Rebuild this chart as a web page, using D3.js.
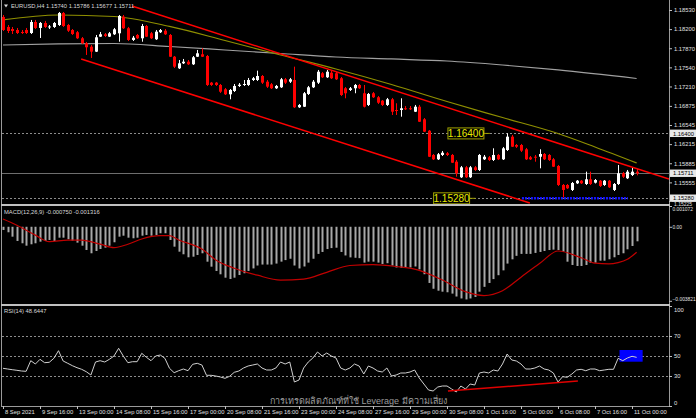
<!DOCTYPE html>
<html><head><meta charset="utf-8">
<script src="https://cdn.jsdelivr.net/npm/d3@7"></script>
<style>
body{margin:0;background:#000;}
svg{display:block;}
text{font-family:"Liberation Sans",Arial,sans-serif;}
</style>
</head><body>
<svg id="chart" width="696" height="418"></svg>
<script>
// EURUSD H4, 8 Sep 2021 08:00 .. 11 Oct 2021 04:00 (138 bars)
const open = [1.18410,1.18237,1.18202,1.18185,1.18151,1.18185,1.18133,1.18323,1.18220,1.18306,
1.18237,1.18237,1.18271,1.18479,1.18271,1.18185,1.18146,1.18042,1.17956,1.17897,
1.17811,1.18070,1.18111,1.18070,1.18111,1.18128,1.18415,1.18215,1.18013,1.18099,
1.18042,1.18254,1.18128,1.18025,1.18146,1.18173,1.18099,1.17724,1.17524,1.17610,
1.17638,1.17593,1.17724,1.17766,1.17736,1.17276,1.17276,1.17236,1.17162,1.17075,
1.17132,1.17219,1.17241,1.17236,1.17322,1.17322,1.17391,1.17293,1.17248,1.17179,
1.17196,1.17334,1.17293,1.17322,1.16851,1.16861,1.17081,1.17196,1.17276,1.17438,
1.17369,1.17448,1.17438,1.17352,1.17179,1.17150,1.17179,1.17236,1.17093,1.16891,
1.17093,1.17024,1.16965,1.16891,1.16989,1.16804,1.16804,1.16834,1.16834,1.16775,
1.16861,1.16644,1.16447,1.16028,1.15953,1.16028,1.16057,1.16028,1.15912,1.15643,
1.15815,1.15643,1.15815,1.15769,1.15953,1.15988,1.15941,1.16028,1.15953,1.16114,
1.16344,1.16200,1.16200,1.16126,1.15988,1.15998,1.15998,1.16045,1.16028,1.15953,
1.15838,1.15510,1.15510,1.15424,1.15539,1.15584,1.15527,1.15608,1.15550,1.15584,
1.15510,1.15584,1.15424,1.15527,1.15712,1.15626,1.15682,1.15740];
const high = [1.18444,1.18271,1.18237,1.18220,1.18185,1.18220,1.18358,1.18358,1.18323,1.18341,
1.18271,1.18323,1.18496,1.18496,1.18289,1.18202,1.18168,1.18064,1.17978,1.17926,
1.18099,1.18151,1.18133,1.18151,1.18220,1.18444,1.18444,1.18237,1.18082,1.18116,
1.18289,1.18271,1.18151,1.18185,1.18202,1.18202,1.18116,1.17736,1.17667,1.17685,
1.17667,1.17736,1.17840,1.17869,1.17754,1.17288,1.17288,1.17253,1.17184,1.17167,
1.17253,1.17270,1.17322,1.17357,1.17374,1.17483,1.17408,1.17322,1.17270,1.17236,
1.17357,1.17357,1.17357,1.17552,1.16908,1.17115,1.17219,1.17322,1.17495,1.17460,
1.17495,1.17478,1.17460,1.17374,1.17201,1.17201,1.17253,1.17253,1.17236,1.17098,
1.17115,1.17046,1.16977,1.17012,1.17012,1.16920,1.17006,1.16873,1.16873,1.16891,
1.16891,1.16666,1.16459,1.16045,1.16062,1.16097,1.16079,1.16045,1.15941,1.15838,
1.15838,1.15838,1.15838,1.16045,1.16028,1.16010,1.16143,1.16045,1.16166,1.16402,
1.16373,1.16218,1.16218,1.16149,1.16010,1.16028,1.16126,1.16062,1.16045,1.15976,
1.15855,1.15527,1.15527,1.15562,1.15596,1.15596,1.15740,1.15740,1.15613,1.15596,
1.15596,1.15596,1.15544,1.15855,1.15734,1.15769,1.15803,1.15786];
const low = [1.18168,1.18133,1.18116,1.18116,1.18116,1.18116,1.18116,1.18202,1.18047,1.18220,
1.18202,1.18220,1.18254,1.18237,1.18151,1.18099,1.18030,1.17944,1.17754,1.17702,
1.17805,1.18064,1.18064,1.18064,1.18099,1.17983,1.18202,1.17995,1.17995,1.18030,
1.17983,1.18064,1.18030,1.18013,1.18133,1.18099,1.17719,1.17529,1.17512,1.17598,
1.17581,1.17581,1.17719,1.17719,1.17219,1.17219,1.17219,1.17098,1.17063,1.16989,
1.17115,1.17201,1.17219,1.17219,1.17305,1.17305,1.17253,1.17184,1.17167,1.17167,
1.17184,1.17253,1.17270,1.16839,1.16839,1.16856,1.17063,1.17184,1.17253,1.17357,
1.17357,1.17339,1.17322,1.17046,1.17006,1.17132,1.17093,1.17167,1.16848,1.16873,
1.17012,1.16908,1.16873,1.16873,1.16718,1.16718,1.16689,1.16804,1.16804,1.16770,
1.16597,1.16425,1.15993,1.15941,1.15941,1.16010,1.16010,1.15890,1.15653,1.15631,
1.15631,1.15631,1.15752,1.15752,1.15941,1.15924,1.15924,1.15941,1.15941,1.16097,
1.16166,1.16149,1.16079,1.15941,1.15941,1.15912,1.15798,1.15941,1.15924,1.15821,
1.15493,1.15295,1.15441,1.15406,1.15527,1.15527,1.15510,1.15510,1.15536,1.15475,
1.15493,1.15458,1.15406,1.15510,1.15631,1.15613,1.15665,1.15677];
const close = [1.18185,1.18168,1.18168,1.18133,1.18133,1.18133,1.18323,1.18220,1.18306,1.18237,
1.18246,1.18306,1.18479,1.18254,1.18173,1.18116,1.18042,1.17956,1.17887,1.17811,
1.18059,1.18111,1.18082,1.18128,1.18197,1.18427,1.18215,1.18013,1.18052,1.18042,
1.18254,1.18070,1.18042,1.18156,1.18185,1.18111,1.17724,1.17552,1.17610,1.17638,
1.17593,1.17714,1.17783,1.17724,1.17236,1.17236,1.17236,1.17120,1.17075,1.17150,
1.17219,1.17241,1.17253,1.17322,1.17352,1.17391,1.17276,1.17207,1.17179,1.17219,
1.17334,1.17276,1.17334,1.16851,1.16891,1.17093,1.17196,1.17293,1.17465,1.17369,
1.17465,1.17352,1.17334,1.17063,1.17093,1.17179,1.17236,1.17179,1.16861,1.17081,
1.17024,1.16930,1.16891,1.16989,1.16775,1.16800,1.16834,1.16822,1.16830,1.16861,
1.16602,1.16430,1.15998,1.15953,1.16040,1.16067,1.16028,1.15895,1.15712,1.15815,
1.15643,1.15815,1.15769,1.16028,1.15998,1.15941,1.16028,1.15953,1.16143,1.16344,
1.16171,1.16171,1.16102,1.15953,1.15953,1.15995,1.16045,1.15953,1.15941,1.15826,
1.15510,1.15424,1.15453,1.15544,1.15584,1.15539,1.15608,1.15527,1.15596,1.15493,
1.15584,1.15470,1.15527,1.15712,1.15653,1.15740,1.15740,1.15711];

// moving averages, read at a few bars
const maBars  = [0,12,24,36,48,60,72,84,96,108,120,128,137];
const maFast  = [1.18358,1.18444,1.18418,1.18246,1.18004,1.17754,1.17512,1.17244,1.16950,1.16674,1.16399,1.16166,1.15890];
const slowBars = [0,12,24,36,48,60,72,84,96,108,120,137];
const maSlow  = [1.17926,1.17944,1.17952,1.17900,1.17840,1.17779,1.17719,1.17685,1.17650,1.17581,1.17495,1.17348];

// MACD(12,26,9) histogram, one per bar
const macd = [-0.000165,-0.000284,-0.000511,-0.000733,-0.000852,-0.000976,-0.000904,-0.000852,-0.000769,-0.000733,
-0.000682,-0.000733,-0.000563,-0.000563,-0.000645,-0.000718,-0.000821,-0.000976,-0.001198,-0.001368,
-0.001250,-0.001146,-0.001079,-0.000976,-0.000800,-0.000511,-0.000460,-0.000563,-0.000594,-0.000563,
-0.000460,-0.000423,-0.000460,-0.000423,-0.000336,-0.000336,-0.000682,-0.001027,-0.001286,-0.001420,
-0.001575,-0.001544,-0.001456,-0.001368,-0.001802,-0.002060,-0.002282,-0.002453,-0.002628,-0.002695,
-0.002628,-0.002489,-0.00240,-0.00228,-0.00215,-0.00200,-0.00195,-0.00195,-0.00195,-0.00190,
-0.00180,-0.00172,-0.00165,-0.00200,-0.00215,-0.00205,-0.00185,-0.00165,-0.00140,-0.00130,
-0.00115,-0.00110,-0.00108,-0.00130,-0.00148,-0.00158,-0.00160,-0.00162,-0.00185,-0.00180,
-0.00180,-0.00185,-0.00192,-0.00188,-0.00200,-0.00210,-0.00212,-0.00212,-0.00210,-0.00205,
-0.00220,-0.00245,-0.00290,-0.00320,-0.00330,-0.00335,-0.00338,-0.00345,-0.00360,-0.00370,
-0.00375,-0.00370,-0.00362,-0.00335,-0.00310,-0.00290,-0.00270,-0.00250,-0.00225,-0.00190,
-0.00168,-0.00150,-0.00140,-0.00140,-0.00140,-0.00135,-0.00130,-0.00125,-0.00120,-0.00118,
-0.00120,-0.001286,-0.001802,-0.001972,-0.002024,-0.002024,-0.001972,-0.001854,-0.001854,-0.001750,
-0.001750,-0.001678,-0.001575,-0.001456,-0.001368,-0.001162,-0.000991,-0.000750];
const sigBars = [0,3,7,10,14,17,21,24,27,30,34,36,38,43,46,50,55,60,65,70,75,80,85,90,95,100,104,108,112,116,120,125,128,131,133,135,137];
const signal  = [0.00040,0.00008,-0.00043,-0.00077,-0.00069,-0.00069,-0.00090,-0.00108,-0.00090,-0.00063,-0.00046,-0.00046,-0.00068,-0.00115,-0.00171,-0.00214,-0.00250,-0.00275,-0.00270,-0.00235,-0.00200,-0.00195,-0.00205,-0.00225,-0.00275,-0.00335,-0.00355,-0.00330,-0.00260,-0.00190,-0.00125,-0.00160,-0.00188,-0.00192,-0.00185,-0.00168,-0.001316];

// RSI(14), one per bar
const rsi = [37.7,37,36.3,35.7,35,34.7,45.3,42,46.7,43.3,
43.7,47.7,55.3,45,42.7,40.3,38.3,36.7,34.3,31,
44,45.3,44,46.7,50,57.7,50,43.3,44.3,44.3,
52.7,48.7,45.3,50,51,47.7,37.7,33.3,35.3,37,
35.3,41.7,42.7,41,30.7,30.7,30,29,27.7,29.7,
33.7,35,38,40,41,42,38,36,36,38,
44,42,44,24,26,38,44,48,54,50,
53,50,48,38,36,38,42,40,32,40,
38,35,34,38,30,31,33,33,34,36,
28,22,16,15,19,20,20,17,14,20,
17,22,21,33,34,33,36,35,42,52,
46,45,42,37,37,38,40,37,36,33,
24,29.3,28.7,32,36,36.7,35.3,37,37,35.3,
36,36.7,36.7,47.7,45.3,48,49.7,48.6447];

const priceTicks = [1.18530,1.18200,1.17870,1.17540,1.17210,1.16875,1.16545,1.16215,1.15885,1.15555];
const bottomPrice = 1.15225;
const timeBars   = [0,8,16,24,32,40,48,56,64,72,80,88,96,104,112,120,128,136];
const timeLabels = ["8 Sep 2021","9 Sep 16:00","13 Sep 00:00","14 Sep 08:00","15 Sep 16:00","17 Sep 00:00",
  "20 Sep 08:00","21 Sep 16:00","23 Sep 00:00","24 Sep 08:00","27 Sep 16:00","29 Sep 00:00",
  "30 Sep 08:00","1 Oct 16:00","5 Oct 00:00","6 Oct 08:00","7 Oct 16:00","11 Oct 00:00"];
const levelHigh = 1.16400, levelLow = 1.15280, lastPrice = 1.15711;
// channel lines: [bar, price] end points
const upperLine = [[27.9,1.18599],[144,1.15613]];
const lowerLine = [[16.9,1.17684],[113.9,1.15199]];
const supportMark = [[112.2,1.15280],[135.1,1.15280]];
const rsiLine = [[96.2,15],[124.3,25]];
const rsiBox = [[133.3,56],[138.3,44.3]];

const svg = d3.select("#chart");
const R = 669; // right edge of plot area
const x = d3.scaleLinear().domain([0,137]).range([3,3+4.625*137]);
const y = d3.scaleLinear().domain([1.15225,1.18530]).range([201.5,10]);
const yM = d3.scaleLinear().domain([-0.003821,0.001072]).range([300.8,206.0]);
const yR = d3.scaleLinear().domain([0,100]).range([406,306]);

svg.append("rect").attr("width",696).attr("height",418).attr("fill","#000");

const defs = svg.append("defs");
defs.append("clipPath").attr("id","cMain").append("rect").attr("x",2).attr("y",0).attr("width",R-2).attr("height",204);
defs.append("clipPath").attr("id","cMacd").append("rect").attr("x",2).attr("y",206).attr("width",R-2).attr("height",98);
defs.append("clipPath").attr("id","cRsi").append("rect").attr("x",2).attr("y",306).attr("width",R-2).attr("height",100);

// ---- main panel
const main = svg.append("g").attr("clip-path","url(#cMain)");
[levelHigh, levelLow].forEach(p => {
  main.append("line").attr("x1",2).attr("x2",R).attr("y1",Math.round(y(p))+0.5).attr("y2",Math.round(y(p))+0.5)
    .attr("stroke","#8c8c8c").attr("stroke-dasharray","2,2");
});
main.append("line").attr("x1",2).attr("x2",R).attr("y1",Math.round(y(lastPrice))+0.5).attr("y2",Math.round(y(lastPrice))+0.5)
  .attr("stroke","#6e6e6e");

const maLine = d3.line().x(d => x(d[0])).y(d => y(d[1])).curve(d3.curveMonotoneX);
main.append("path").attr("d", maLine(slowBars.map((b,i)=>[b,maSlow[i]])))
  .attr("fill","none").attr("stroke","#a0a0a0").attr("stroke-width",1.2);
main.append("path").attr("d", maLine(maBars.map((b,i)=>[b,maFast[i]])))
  .attr("fill","none").attr("stroke","#8f8f00").attr("stroke-width",1.2);

const bars = d3.range(open.length);
const cg = main.append("g");
cg.selectAll("line.wick").data(bars).enter().append("line")
  .attr("x1", i => Math.round(x(i))+0.5).attr("x2", i => Math.round(x(i))+0.5)
  .attr("y1", i => y(high[i])).attr("y2", i => y(low[i]))
  .attr("stroke", i => close[i] >= open[i] ? "#ffffff" : "#ff0000");
cg.selectAll("rect.body").data(bars).enter().append("rect")
  .attr("x", i => Math.round(x(i))-1).attr("width",3)
  .attr("y", i => Math.min(y(open[i]), y(close[i])))
  .attr("height", i => Math.max(1, Math.abs(y(open[i]) - y(close[i]))))
  .attr("fill", i => close[i] >= open[i] ? "#ffffff" : "#ff0000");

const seg = d3.line().x(d => x(d[0])).y(d => y(d[1]));
main.append("path").attr("d", seg(upperLine)).attr("stroke","#ff0000").attr("stroke-width",1.5).attr("fill","none");
main.append("path").attr("d", seg(lowerLine)).attr("stroke","#ff0000").attr("stroke-width",1.5).attr("fill","none");
main.append("path").attr("d", seg(supportMark)).attr("stroke","#1414ff").attr("stroke-width",2.5)
  .attr("stroke-dasharray","2,1").attr("fill","none");

function priceTag(bar, p, w) {
  const gx = x(bar), gy = y(p);
  main.append("line").attr("x1",gx+w).attr("x2",gx+w+6).attr("y1",gy).attr("y2",gy).attr("stroke","#a0a000");
  main.append("rect").attr("x",gx).attr("y",gy-5.5).attr("width",w).attr("height",11)
    .attr("fill","#000").attr("stroke","#a0a000");
  main.append("text").attr("x",gx+w/2).attr("y",gy+3.6).attr("text-anchor","middle")
    .attr("fill","#e8e800").attr("font-size",10).text(p.toFixed(5));
}
priceTag(96.2, levelHigh, 36);
priceTag(93.1, levelLow, 36);

svg.append("text").attr("x",11).attr("y",8).attr("fill","#d8d8d8").attr("font-size",5.8)
  .text("EURUSD,H4  1.15740 1.15786 1.15677 1.15711");
svg.append("path").attr("d","M4,4.5 L8,4.5 L6,7.5 Z").attr("fill","#d8d8d8");

// ---- MACD panel
const mg = svg.append("g").attr("clip-path","url(#cMacd)");
mg.selectAll("rect").data(bars).enter().append("rect")
  .attr("x", i => Math.round(x(i))-0.5).attr("width",2)
  .attr("y", i => Math.min(yM(0), yM(macd[i])))
  .attr("height", i => Math.abs(yM(macd[i]) - yM(0)))
  .attr("fill","#a8a8a8");
mg.append("path").attr("d", d3.line().x(d=>x(d[0])).y(d=>yM(d[1])).curve(d3.curveMonotoneX)(sigBars.map((b,i)=>[b,signal[i]])))
  .attr("fill","none").attr("stroke","#c00000").attr("stroke-width",1.2);
svg.append("text").attr("x",4).attr("y",214).attr("fill","#d8d8d8").attr("font-size",5.8)
  .text("MACD(12,26,9) -0.000750 -0.001316");

// ---- RSI panel
const rg = svg.append("g").attr("clip-path","url(#cRsi)");
[70,50,30].forEach(v => {
  rg.append("line").attr("x1",2).attr("x2",R).attr("y1",yR(v)+0.5).attr("y2",yR(v)+0.5)
    .attr("stroke","#8c8c8c").attr("stroke-dasharray","2,2");
});
rg.append("text").attr("x",270).attr("y",404).attr("fill","#9a9a9a").attr("font-size",9)
  .attr("font-family","'Noto Sans','DejaVu Sans',sans-serif")
  .text("การเทรดผลิตภัณฑ์ที่ใช้ Leverage มีความเสี่ยง");
rg.append("rect").attr("x",x(rsiBox[0][0])).attr("y",yR(rsiBox[0][1]))
  .attr("width",x(rsiBox[1][0])-x(rsiBox[0][0])).attr("height",yR(rsiBox[1][1])-yR(rsiBox[0][1]))
  .attr("fill","#0000ff");
rg.append("path").attr("d", d3.line().x(d=>x(d[0])).y(d=>yR(d[1]))(bars.map(i=>[i,rsi[i]])))
  .attr("fill","none").attr("stroke","#d0d0d0").attr("stroke-width",1);
rg.append("path").attr("d", d3.line().x(d=>x(d[0])).y(d=>yR(d[1]))(rsiLine))
  .attr("fill","none").attr("stroke","#e00000").attr("stroke-width",1.5);
svg.append("text").attr("x",4).attr("y",313).attr("fill","#d8d8d8").attr("font-size",5.8)
  .text("RSI(14) 48.6447");

// ---- frame
svg.append("line").attr("x1",1.5).attr("x2",1.5).attr("y1",0).attr("y2",406).attr("stroke","#9a9a9a");
svg.append("line").attr("x1",R+0.5).attr("x2",R+0.5).attr("y1",0).attr("y2",406).attr("stroke","#9a9a9a");
svg.append("line").attr("x1",1).attr("x2",R+1).attr("y1",406.5).attr("y2",406.5).attr("stroke","#9a9a9a");
[204, 304].forEach(yy => svg.append("rect").attr("x",1).attr("y",yy).attr("width",R).attr("height",2).attr("fill","#c0c0c0"));

// ---- axes
function styleAxis(g, fs) {
  g.select(".domain").remove();
  g.selectAll(".tick line").attr("stroke","#c0c0c0");
  g.selectAll(".tick text").attr("fill","#e0e0e0").attr("font-size",fs || 5.8)
    .attr("font-family","'Liberation Sans',Arial,sans-serif");
}
svg.append("g").attr("transform",`translate(${R},0)`)
  .call(d3.axisRight(y).tickValues(priceTicks).tickFormat(d3.format(".5f")).tickSize(3).tickPadding(2))
  .call(styleAxis);
svg.append("g").attr("transform",`translate(${R},0)`)
  .call(d3.axisRight(yM).tickValues([0.001072,0,-0.003821]).tickSize(3).tickPadding(0.5)
    .tickFormat(d => d === 0 ? "0.00" : d3.format(".6f")(d)))
  .call(g => styleAxis(g, 4.9))
  .call(g => g.selectAll(".tick text").attr("dy", (d) => d > 0 ? "0.9em" : d < 0 ? "0em" : "0.32em"));
svg.append("g").attr("transform",`translate(${R},0)`)
  .call(d3.axisRight(yR).tickValues([100,70,50,30,0]).tickSize(3).tickPadding(2))
  .call(styleAxis)
  .call(g => g.selectAll(".tick text").attr("dy", d => d === 100 ? "0.9em" : d === 0 ? "-0.2em" : "0.32em"));
svg.append("g").attr("transform","translate(0,406)")
  .call(d3.axisBottom(x).tickValues(timeBars).tickSize(3).tickPadding(1).tickFormat((d,i) => timeLabels[i]))
  .call(styleAxis)
  .call(g => g.selectAll(".tick text").attr("text-anchor","start").attr("dx","1.5"));

function axisTag(p) {
  const gy = y(p);
  svg.append("rect").attr("x",R+1).attr("y",gy-3.8).attr("width",27).attr("height",7.4).attr("fill","#e8e8e8");
  svg.append("text").attr("x",R+4).attr("y",gy+2.1).attr("font-size",5.8).attr("fill","#000").text(p.toFixed(5));
}
axisTag(levelHigh);
axisTag(lastPrice);
axisTag(levelLow);

// lowest price label, peeking out just under the 1.15280 tag
svg.append("line").attr("x1",R).attr("x2",R+3).attr("y1",y(bottomPrice)).attr("y2",y(bottomPrice)).attr("stroke","#c0c0c0");
svg.append("text").attr("x",R+5).attr("y",y(bottomPrice)+4.2).attr("font-size",5).attr("fill","#e0e0e0")
  .text(bottomPrice.toFixed(5));
</script>
</body></html>
